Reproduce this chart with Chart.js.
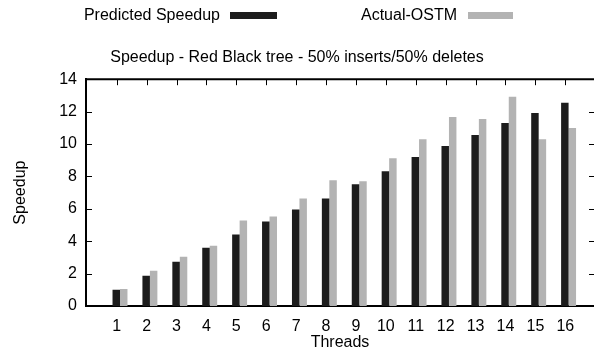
<!DOCTYPE html>
<html>
<head>
<meta charset="utf-8">
<script src="https://cdn.jsdelivr.net/npm/chart.js@4"></script>
<style>
html,body{margin:0;padding:0;background:#fff;}
#wrap{width:594px;height:352px;position:relative;}
</style>
</head>
<body>
<div id="wrap"><canvas id="myChart"></canvas></div>
<script>
const threads = [1, 2, 3, 4, 5, 6, 7, 8, 9, 10, 11, 12, 13, 14, 15, 16];
const predicted = [1.0, 1.86, 2.73, 3.6, 4.41, 5.21, 5.96, 6.64, 7.51, 8.32, 9.19, 9.87, 10.55, 11.3, 11.92, 12.54];
const actual = [1.05, 2.17, 3.04, 3.72, 5.28, 5.52, 6.64, 7.76, 7.7, 9.12, 10.3, 11.67, 11.55, 12.91, 10.3, 10.99];
const yTicks = [0, 2, 4, 6, 8, 10, 12, 14];

const FONT = {family: '"Liberation Sans", Arial, sans-serif', size: 16, weight: 'normal'};
const labelShift = -3.3;

Chart.defaults.font.family = FONT.family;
Chart.defaults.color = '#000';

// gnuplot style frame: top border, inner ticks, legend with swatch after text
const framePlugin = {
    id: 'frame',
    afterDraw(chart) {
        const {ctx, chartArea: a, scales} = chart;
        ctx.save();
        ctx.strokeStyle = '#000';
        ctx.lineWidth = 2;
        ctx.beginPath();
        ctx.moveTo(a.left - 1, a.top);
        ctx.lineTo(a.right, a.top);
        ctx.stroke();

        ctx.lineWidth = 1;
        ctx.beginPath();
        yTicks.forEach(v => {
            if (v === 0 || v === 14) return;
            const y = Math.round(scales.y.getPixelForValue(v)) + 0.5;
            ctx.moveTo(a.left, y); ctx.lineTo(a.left + 6, y);
            ctx.moveTo(a.right, y); ctx.lineTo(a.right - 5, y);
        });
        threads.forEach(t => {
            const x = Math.round(scales.x.getPixelForValue(t) + labelShift) + 0.5;
            ctx.moveTo(x, a.top); ctx.lineTo(x, a.top + 6);
        });
        ctx.stroke();

        // legend
        ctx.font = FONT.size + 'px ' + FONT.family;
        ctx.textAlign = 'right';
        ctx.textBaseline = 'middle';
        const items = [
            {textEnd: 220, boxX: 230, boxW: 47},
            {textEnd: 457, boxX: 468, boxW: 45}
        ];
        chart.data.datasets.forEach((ds, i) => {
            const it = items[i];
            ctx.fillStyle = '#000';
            ctx.fillText(ds.label, it.textEnd, 16);
            ctx.fillStyle = ds.backgroundColor;
            ctx.fillRect(it.boxX, 12, it.boxW, 7);
        });
        ctx.restore();
    }
};

const ctx = document.getElementById('myChart').getContext('2d');
new Chart(ctx, {
    type: 'bar',
    data: {
        datasets: [{
            label: 'Predicted Speedup',
            backgroundColor: '#1c1c1c',
            data: threads.map((t, i) => ({x: t, y: predicted[i]}))
        }, {
            label: 'Actual-OSTM',
            backgroundColor: '#b3b3b3',
            data: threads.map((t, i) => ({x: t, y: actual[i]}))
        }]
    },
    options: {
        responsive: true,
        maintainAspectRatio: false,
        animation: false,
        barPercentage: 1,
        categoryPercentage: 0.5,
        layout: {padding: {top: 0, left: 0, right: 0, bottom: 0}},
        plugins: {
            legend: {display: false},
            tooltip: {enabled: false},
            title: {
                display: true,
                text: 'Speedup - Red Black tree - 50% inserts/50% deletes',
                font: FONT,
                color: '#000',
                padding: {top: 48, bottom: 12}
            }
        },
        scales: {
            x: {
                type: 'linear',
                offset: false,
                min: -0.137,
                max: 16.85,
                afterBuildTicks: s => { s.ticks = threads.map(v => ({value: v})); },
                grid: {display: false, drawTicks: false, offset: false},
                border: {color: '#000', width: 2},
                ticks: {padding: 11, labelOffset: labelShift, autoSkip: false, maxRotation: 0, font: FONT, color: '#000'},
                title: {display: true, text: 'Threads', font: FONT, color: '#000', padding: {top: 0, bottom: 0}},
                afterFit: s => { s.height = 46; }
            },
            y: {
                min: 0,
                max: 14,
                grid: {display: false, drawTicks: false},
                border: {color: '#000', width: 2},
                ticks: {stepSize: 2, padding: 9, font: FONT, color: '#000'},
                title: {display: true, text: 'Speedup', font: FONT, color: '#000', padding: {top: 11, bottom: 0}},
                afterFit: s => { s.width = 86; }
            }
        }
    },
    plugins: [framePlugin]
});
</script>
</body>
</html>
